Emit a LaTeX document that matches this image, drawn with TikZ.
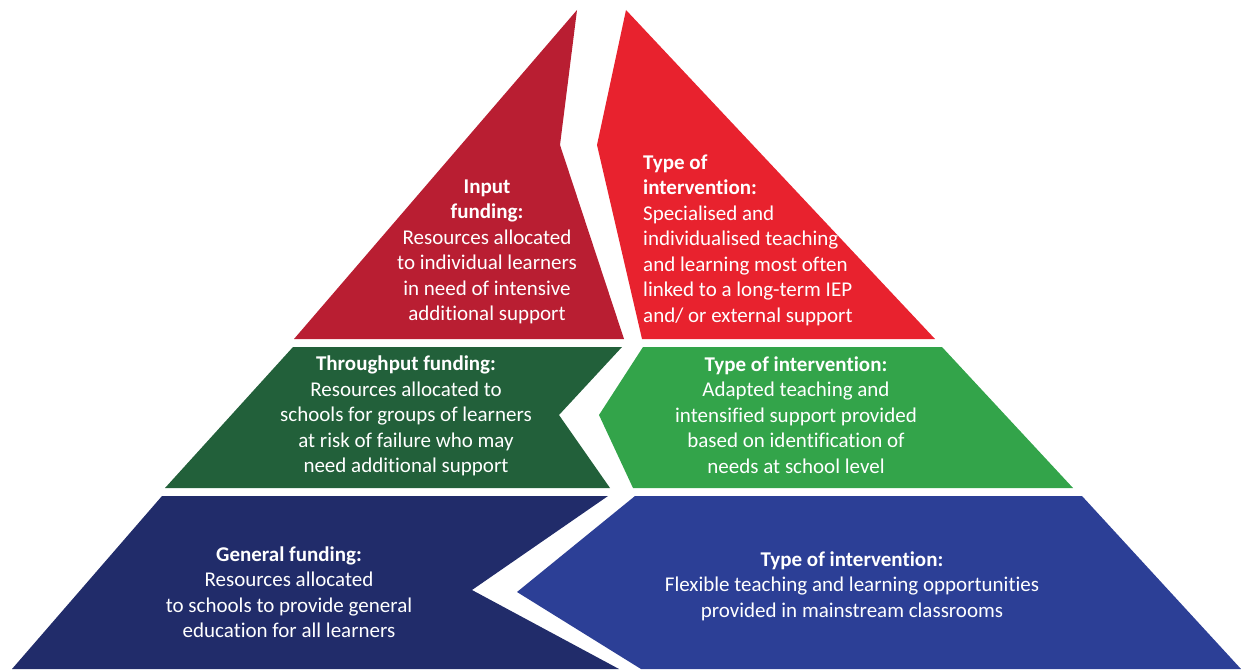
\documentclass[tikz,border=0pt]{standalone}
\usepackage{fontspec}
\setmainfont[Ligatures=NoCommon]{Carlito}
\definecolor{redL}{RGB}{185,30,50}
\definecolor{redR}{RGB}{232,34,46}
\definecolor{greenL}{RGB}{34,96,58}
\definecolor{greenR}{RGB}{51,164,74}
\definecolor{blueL}{RGB}{33,44,106}
\definecolor{blueR}{RGB}{44,63,150}
\begin{document}
\begin{tikzpicture}[x=1pt,y=-1pt,
  lbl/.style={text=white,inner sep=0pt,font=\fontsize{21}{25.5}\selectfont},
  lblc/.style={lbl,align=center},
  lbll/.style={lbl,align=left}]
\useasboundingbox (0,0) rectangle (1241,669);
% red level
\fill[redL] (577,10) -- (560,145) -- (624,339) -- (294,339) -- cycle;
\fill[redR] (626,10) -- (935,339) -- (642,339) -- (597,145) -- cycle;
% green level
\fill[greenL] (293,347) -- (622,347) -- (559,415) -- (610,488) -- (165,488) -- cycle;
\fill[greenR] (643,347) -- (942,347) -- (1073,488) -- (633,488) -- (599,415) -- cycle;
% blue level
\fill[blueL] (162,496) -- (608,496) -- (472,590) -- (619,669) -- (12,669) -- cycle;
\fill[blueR] (635,496) -- (1082,496) -- (1241,669) -- (641,669) -- (517,592) -- cycle;
% texts
\node[lblc] (inputtxt) at (487,252) {\textbf{Input}\\\textbf{funding:}\\Resources allocated\\to individual learners\\in need of intensive\\additional support};
\node[lbll,anchor=west] (toptype) at (643,240) {\textbf{Type of}\\\textbf{intervention:}\\Specialised and\\individualised teaching\\and learning most often\\linked to a long-term IEP\\and/ or external support};
\node[lblc] (throughtxt) at (406,416) {\textbf{Throughput funding:}\\Resources allocated to\\schools for groups of learners\\at risk of failure who may\\need additional support};
\node[lblc] (midtype) at (796,415) {\textbf{Type of intervention:}\\Adapted teaching and\\intensified support provided\\based on identification of\\needs at school level};
\node[lblc] (generaltxt) at (289,592) {\textbf{General funding:}\\Resources allocated\\to schools to provide general\\education for all learners};
\node[lblc] (bottype) at (852,586) {\textbf{Type of intervention:}\\Flexible teaching and learning opportunities\\provided in mainstream classrooms};
\end{tikzpicture}
\end{document}
